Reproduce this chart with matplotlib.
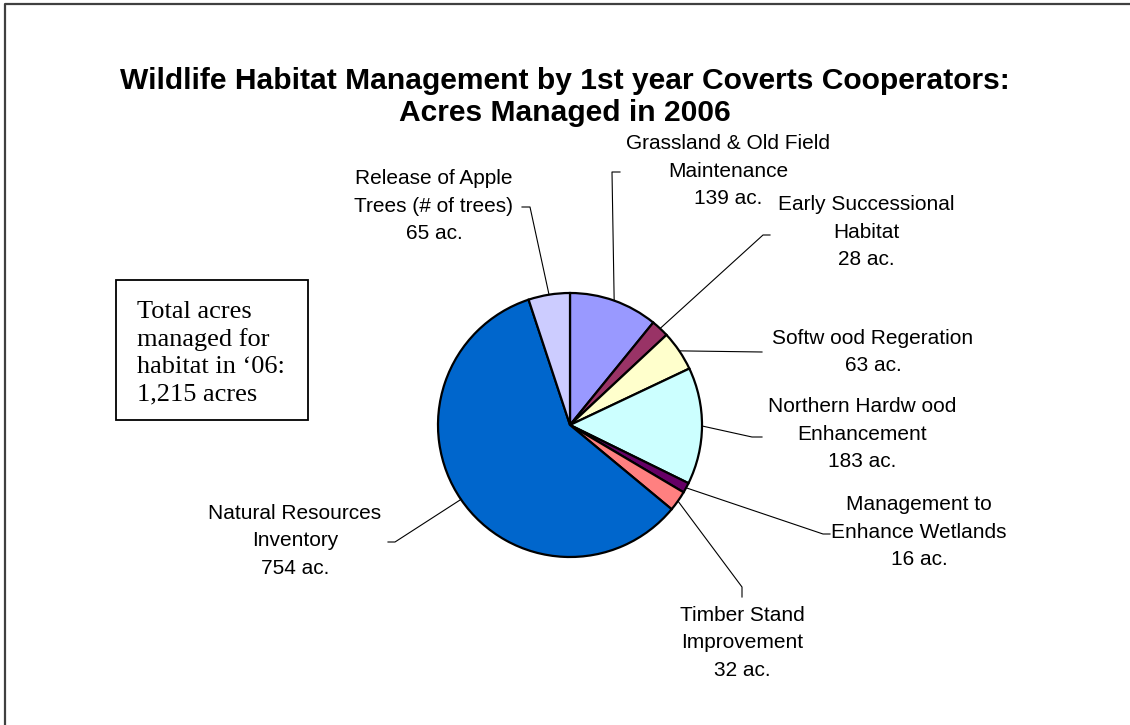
import numpy as np
import matplotlib
matplotlib.use("Agg")
import matplotlib.pyplot as plt
from matplotlib.patches import Rectangle

# ---- data ----
categories = [
    "Grassland & Old Field\nMaintenance",
    "Early Successional\nHabitat",
    "Softw ood Regeration",
    "Northern Hardw ood\nEnhancement",
    "Management to\nEnhance Wetlands",
    "Timber Stand\nImprovement",
    "Natural Resources\nInventory",
    "Release of Apple\nTrees (# of trees)",
]
acres = [139, 28, 63, 183, 16, 32, 754, 65]
colors = ["#9999FF", "#993366", "#FFFFCC", "#CCFFFF", "#660066", "#FF8080", "#0066CC", "#CCCCFF"]
title = "Wildlife Habitat Management by 1st year Coverts Cooperators:\nAcres Managed in 2006"
total_note = "Total acres\nmanaged for\nhabitat in \u201806:\n1,215 acres"

W, H = 1130, 725
fig = plt.figure(figsize=(W / 100, H / 100), dpi=100)
ax = fig.add_axes([0, 0, 1, 1])

def Y(y):
    return H - y

cx, cy, R = 570, 425, 132
wedges, _ = ax.pie(acres, colors=colors, startangle=90, counterclock=False,
                   center=(cx, Y(cy)), radius=R,
                   wedgeprops=dict(edgecolor="black", linewidth=1.6))
ax.set_aspect("auto")
ax.set_xlim(0, W)
ax.set_ylim(0, H)
ax.axis("off")

# label layout (pixel positions, y from top): text centre, leader path after edge point
label_pos = [(728, 171), (866, 232), (873, 352), (862, 434),
             (919, 532), (742, 643), (295, 541), (434, 206)]
leader_pts = [
    [(612, 172), (620, 172)],
    [(763, 235), (770, 235)],
    [(762, 352)],
    [(752, 437), (762, 437)],
    [(823, 534), (830, 534)],
    [(742, 587), (742, 597)],
    [(395, 542), (388, 542)],
    [(530, 207), (522, 207)],
]

for w, cat, val, (lx, ly), pts in zip(wedges, categories, acres, label_pos, leader_pts):
    mid = np.deg2rad((w.theta1 + w.theta2) / 2)
    ex, ey = cx + R * np.cos(mid), Y(cy) + R * np.sin(mid)
    xs = [ex] + [p[0] for p in pts]
    ys = [ey] + [Y(p[1]) for p in pts]
    ax.plot(xs, ys, color="black", lw=0.8, clip_on=False, zorder=1)
    ax.text(lx, Y(ly), f"{cat}\n{val} ac.", ha="center", va="center",
            fontsize=15, family="Liberation Sans", linespacing=1.55, color="black")

ax.text(565, Y(97), title, ha="center", va="center", fontsize=21.6, fontweight="bold",
        family="Liberation Sans", linespacing=1.15)

# note box
ax.add_patch(Rectangle((116, Y(420)), 308 - 116, 420 - 280, fill=False,
                       edgecolor="black", lw=1.3))
ax.text(137, Y(353), total_note, ha="left", va="center", fontsize=19,
        family="Liberation Serif", linespacing=1.3)

# frame (only top and left visible)
ax.plot([5, 5, W + 10], [-10, Y(4), Y(4)], color="#404040", lw=1.6, clip_on=False)

fig.savefig("out.png", dpi=100)
